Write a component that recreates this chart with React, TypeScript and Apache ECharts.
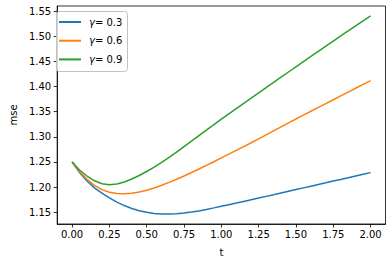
import React, { useEffect, useRef } from "react";
import * as echarts from "echarts";

const T = [0, 0.05, 0.1, 0.15, 0.2, 0.25, 0.3, 0.35, 0.4, 0.45, 0.5, 0.55, 0.6, 0.65, 0.7, 0.75, 0.8, 0.85, 0.9, 0.95, 1.0, 1.05, 1.1, 1.15, 1.2, 1.25, 1.3, 1.35, 1.4, 1.45, 1.5, 1.55, 1.6, 1.65, 1.7, 1.75, 1.8, 1.85, 1.9, 1.95, 2.0];
const BLUE = [1.25, 1.229, 1.212, 1.1985, 1.188, 1.1785, 1.17, 1.1632, 1.1575, 1.153, 1.1497, 1.1476, 1.1466, 1.1464, 1.147, 1.1483, 1.1502, 1.1526, 1.1555, 1.1586, 1.1618, 1.165, 1.1682, 1.1715, 1.1748, 1.1781, 1.1815, 1.1848, 1.1882, 1.1916, 1.195, 1.1984, 1.2018, 1.2052, 1.2085, 1.2119, 1.2152, 1.2186, 1.222, 1.2254, 1.2288];
const ORANGE = [1.25, 1.231, 1.2155, 1.2035, 1.195, 1.1898, 1.1872, 1.1866, 1.1877, 1.1902, 1.1938, 1.1983, 1.2035, 1.2093, 1.2155, 1.2221, 1.229, 1.236, 1.2432, 1.2505, 1.258, 1.2655, 1.273, 1.2806, 1.2882, 1.296, 1.304, 1.3119, 1.3198, 1.3277, 1.3355, 1.3433, 1.351, 1.3586, 1.3662, 1.3738, 1.3815, 1.3892, 1.3968, 1.4044, 1.412];
const GREEN = [1.25, 1.234, 1.222, 1.2125, 1.2065, 1.2045, 1.206, 1.21, 1.216, 1.223, 1.231, 1.2398, 1.2492, 1.259, 1.2695, 1.2805, 1.2915, 1.3025, 1.3135, 1.3245, 1.3352, 1.3458, 1.3563, 1.3667, 1.3771, 1.3875, 1.3979, 1.4083, 1.4187, 1.4291, 1.4395, 1.4498, 1.4601, 1.4703, 1.4805, 1.4907, 1.5008, 1.5109, 1.521, 1.531, 1.541];
const NAMES = ["γ= 0.3", "γ= 0.6", "γ= 0.9"];
const COLORS = ["#1f77b4", "#ff7f0e", "#2ca02c"];
const X_TICKS = [0, 0.25, 0.5, 0.75, 1.0, 1.25, 1.5, 1.75, 2.0];
const Y_TICKS = [1.15, 1.2, 1.25, 1.3, 1.35, 1.4, 1.45, 1.5, 1.55];

export default function App() {
  const ref = useRef<HTMLDivElement>(null);
  useEffect(() => {
    if (!ref.current) return;
    const chart = echarts.init(ref.current, undefined, { renderer: "svg" });
    const font = "DejaVu Sans";
    const seriesData = [BLUE, ORANGE, GREEN];
    chart.setOption({
      animation: false,
      textStyle: { fontFamily: font },
      grid: {
        left: 51,
        top: 6,
        right: 6.5,
        bottom: 38,
        show: true,
        borderColor: "#000",
        borderWidth: 0.8,
        backgroundColor: "transparent",
      },
      graphic: {
        elements: [
          {
            type: "rect",
            z: 10,
            left: 56,
            top: 11,
            shape: { width: 71, height: 60, r: 3 },
            style: { fill: "rgba(255,255,255,0.8)", stroke: "#c2c2c2", lineWidth: 1 },
          },
        ],
      },
      legend: {
        orient: "vertical",
        left: 56,
        top: 11,
        padding: [5, 7, 5, 3],
        itemWidth: 22,
        itemHeight: 2,
        itemGap: 6.7,
        icon: "rect",
        z: 20,
        data: NAMES,
        formatter: (name: string) => `{g|γ}{n|${name.slice(1)}}`,
        textStyle: {
          fontFamily: font,
          fontSize: 10,
          color: "#000",
          padding: [0, 0, 0, 3],
          lineHeight: 12,
          rich: {
            g: { fontStyle: "italic", fontFamily: font, fontSize: 10, color: "#000", lineHeight: 12 },
            n: { fontFamily: font, fontSize: 10, color: "#000", lineHeight: 12 },
          },
        },
      },
      xAxis: {
        type: "value",
        min: -0.1,
        max: 2.1,
        name: "t",
        nameLocation: "middle",
        nameGap: 23,
        nameTextStyle: { fontFamily: font, fontSize: 10, color: "#000" },
        axisLine: { show: true, onZero: false, lineStyle: { color: "#000", width: 0.8 } },
        splitLine: { show: false },
        axisTick: {
          show: true,
          length: 3.5,
          customValues: X_TICKS,
          lineStyle: { color: "#000", width: 0.8 },
        },
        axisLabel: {
          customValues: X_TICKS,
          formatter: (v: number) => v.toFixed(2),
          fontFamily: font,
          fontSize: 10,
          color: "#000",
          margin: 5,
        },
      },
      yAxis: {
        type: "value",
        min: 1.1265,
        max: 1.5605,
        name: "mse",
        nameLocation: "middle",
        nameRotate: 90,
        nameGap: 34,
        nameTextStyle: { fontFamily: font, fontSize: 10, color: "#000" },
        axisLine: { show: true, onZero: false, lineStyle: { color: "#000", width: 0.8 } },
        splitLine: { show: false },
        axisTick: {
          show: true,
          length: 3.5,
          customValues: Y_TICKS,
          lineStyle: { color: "#000", width: 0.8 },
        },
        axisLabel: {
          customValues: Y_TICKS,
          formatter: (v: number) => v.toFixed(2),
          fontFamily: font,
          fontSize: 10,
          color: "#000",
          margin: 6,
        },
      },
      series: seriesData.map((arr, i) => ({
        type: "line",
        name: NAMES[i],
        data: T.map((t, j) => [t, arr[j]]),
        showSymbol: false,
        symbol: "none",
        smooth: false,
        lineStyle: { color: COLORS[i], width: 1.5 },
        itemStyle: { color: COLORS[i] },
      })),
    });
    return () => chart.dispose();
  }, []);
  return (
    <div
      ref={ref}
      style={{ position: "fixed", left: 0, top: 0, width: 392, height: 262, background: "#fff" }}
    />
  );
}
